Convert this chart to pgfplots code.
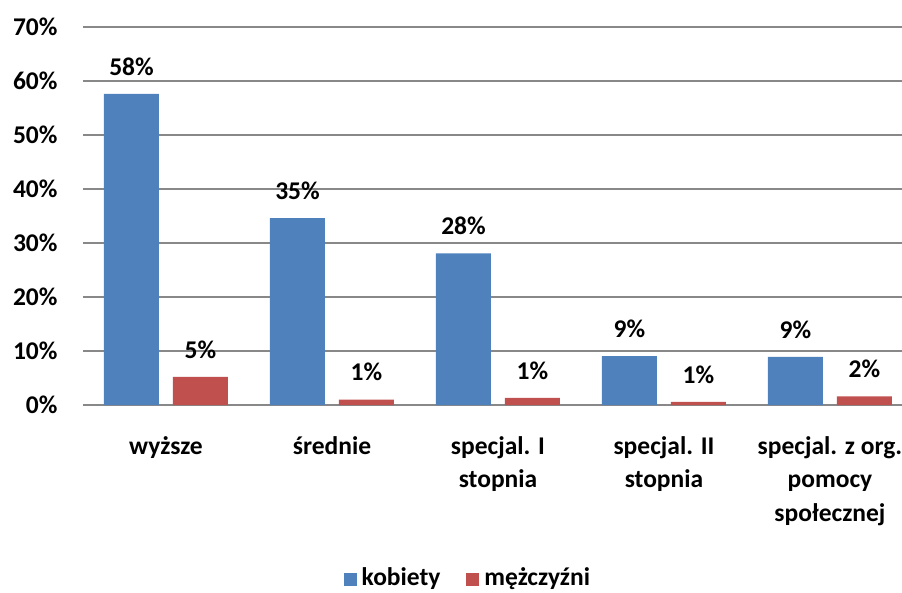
\documentclass[border=0pt]{standalone}
\usepackage{pgfplots}
\pgfplotsset{compat=1.18}
\usepackage{fontspec}
\setmainfont{Carlito}
\definecolor{cblue}{HTML}{4F81BD}
\definecolor{cred}{HTML}{C0504D}
\definecolor{cgrid}{HTML}{888888}
\newcommand{\cf}{\fontsize{25.5}{33.5}\selectfont\bfseries}
\begin{document}
\begin{tikzpicture}[x=1pt,y=1pt]
\useasboundingbox (0,0) rectangle (902,592);
\begin{axis}[
  at={(83pt,187pt)}, anchor=south west,
  scale only axis, width=819pt, height=378pt,
  xmin=-0.5, xmax=4.434, ymin=0, ymax=70,
  ybar, bar width=55pt,
  axis line style={draw=none},
  ytick={0,10,...,70}, ymajorgrids, grid style={cgrid, line width=1.4pt},
  major tick length=0pt,
  xtick={0,1,2,3,4},
  xticklabels={wyższe, średnie, {specjal. I\\stopnia}, {specjal. II\\stopnia}, {specjal. z org.\\pomocy\\społecznej}},
  xticklabel style={align=center, font=\cf, anchor=north, yshift=-28pt},
  yticklabel style={font=\cf, anchor=east, xshift=-22pt},
  /pgf/number format/assume math mode=true,
  yticklabel={\pgfmathprintnumber{\tick}\%},
  nodes near coords={\pgfmathprintnumber[fixed,precision=0]{\pgfplotspointmeta}\%},
  nodes near coords style={font=\cf, anchor=south, yshift=15pt},
  legend style={at={(axis description cs:0.47,-0.457)}, anchor=center, draw=none, legend columns=2, font=\cf,
    /tikz/every even column/.append style={column sep=24pt}},
  legend image code/.code={\fill[#1] (0pt,-8pt) rectangle (13pt,5pt); \path (16pt,0pt);},
  clip=false,
]
\draw[cgrid, line width=1.6pt] (axis cs:-0.5,0) -- (axis cs:4.434,0);
\addplot[fill=cblue, draw=none, bar shift=-34.5pt] coordinates {(0,57.6) (1,34.6) (2,28.1) (3,9.07) (4,8.9)};
\addplot[fill=cred, draw=none, bar shift=34.5pt] coordinates {(0,5.2) (1,1.0) (2,1.3) (3,0.6) (4,1.6)};
\legend{kobiety, mężczyźni}
\end{axis}
\end{tikzpicture}
\end{document}
